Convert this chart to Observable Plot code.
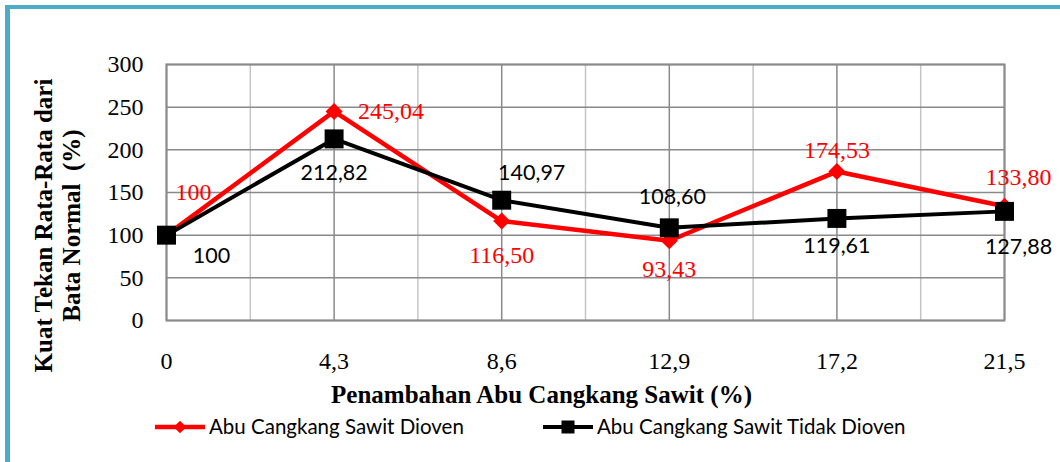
<!DOCTYPE html>
<html>
<head>
<meta charset="utf-8">
<script src="https://cdn.jsdelivr.net/npm/d3@7"></script>
<script src="https://cdn.jsdelivr.net/npm/@observablehq/plot@0.6"></script>
<style>
  html, body { margin: 0; padding: 0; background: #fff; }
  #wrap { position: relative; width: 1060px; height: 462px; overflow: hidden; background: #fff; }
  #border { position: absolute; left: 5px; top: 5px; width: 1200px; height: 600px;
            border-left: 5px solid #4bacc6; border-top: 4px solid #4bacc6; pointer-events: none; }
  #legend { position: absolute; left: 0; top: 410px; }
</style>
</head>
<body>
<div id="wrap">
  <div id="chart"></div>
  <svg id="legend" width="1060" height="36"></svg>
  <div id="border"></div>
</div>
<script>
// ---- data ----
const xValues = [0, 4.3, 8.6, 12.9, 17.2, 21.5];
const xTickLabels = ["0", "4,3", "8,6", "12,9", "17,2", "21,5"];
const yTicks = [0, 50, 100, 150, 200, 250, 300];
const seriesNames = ["Abu Cangkang Sawit Dioven", "Abu Cangkang Sawit Tidak Dioven"];
const dioven = [100, 245.04, 116.50, 93.43, 174.53, 133.80];
const dioventLabels = ["100", "245,04", "116,50", "93,43", "174,53", "133,80"];
const tidakDioven = [100, 212.82, 140.97, 108.60, 119.61, 127.88];
const tidakDiovenLabels = ["100", "212,82", "140,97", "108,60", "119,61", "127,88"];
const xTitle = "Penambahan Abu Cangkang Sawit (%)";
const yTitle = ["Kuat Tekan Rata-Rata dari", "Bata Normal  (%)"];

// ---- label placement (Excel-like nudges, layout only) ----
const redNudge = [[27, -43], [57, 0], [0, 34], [0, 29], [0, -21], [14, -29]];
const blackNudge = [[45, 21], [0, 34], [30, -27], [3, -31], [0, 28], [14, 36]];

const red = "#ff0000";
const black = "#000000";
const serif = "Liberation Serif, Times New Roman, serif";
const sans = "Lato, Open Sans, sans-serif";

const redData = xValues.map((x, i) => ({x, y: dioven[i], label: dioventLabels[i], i}));
const blackData = xValues.map((x, i) => ({x, y: tidakDioven[i], label: tidakDiovenLabels[i], i}));

const minorX = xValues.slice(1).map((v, i) => (v + xValues[i]) / 2);

const labelMarks = [];
redData.forEach((d, i) => {
  labelMarks.push(Plot.text([d], {
    x: "x", y: "y", text: "label", fill: red, fontSize: 24,
    fontFamily: serif, dx: redNudge[i][0], dy: redNudge[i][1]
  }));
});
blackData.forEach((d, i) => {
  labelMarks.push(Plot.text([d], {
    x: "x", y: "y", text: "label", fill: black, fontSize: 21.5,
    fontFamily: sans, dx: blackNudge[i][0], dy: blackNudge[i][1]
  }));
});

const chart = Plot.plot({
  width: 1060,
  height: 462,
  marginLeft: 166,
  marginRight: 56,
  marginTop: 64,
  marginBottom: 142,
  style: {fontFamily: serif, fontSize: "24px", color: "#000", background: "transparent"},
  x: {domain: [0, 21.5]},
  y: {domain: [0, 300]},
  marks: [
    Plot.gridX(minorX, {stroke: "#c4c4c4", strokeOpacity: 1, strokeWidth: 1.5}),
    Plot.gridX(xValues, {stroke: "#8a8a8a", strokeOpacity: 1, strokeWidth: 1.5}),
    Plot.gridY(yTicks, {stroke: "#8a8a8a", strokeOpacity: 1, strokeWidth: 1.5}),
    Plot.frame({stroke: "#8a8a8a", strokeWidth: 2}),
    Plot.axisX(xValues, {tickSize: 0, tickPadding: 31, label: null, fontSize: 24,
      tickFormat: (d) => xTickLabels[xValues.indexOf(d)]}),
    Plot.axisY(yTicks, {tickSize: 0, tickPadding: 23, label: null, fontSize: 24}),
    Plot.line(redData, {x: "x", y: "y", stroke: red, strokeWidth: 4.5}),
    Plot.dot(redData, {x: "x", y: "y", symbol: "square", r: 6.8, rotate: 45, fill: red, stroke: null}),
    Plot.line(blackData, {x: "x", y: "y", stroke: black, strokeWidth: 4}),
    Plot.dot(blackData, {x: "x", y: "y", symbol: "square", r: 10.7, fill: black, stroke: null}),
    ...labelMarks,
    Plot.text([xTitle], {frameAnchor: "bottom", textAnchor: "middle", lineAnchor: "middle",
      dx: -44, dy: 74, fontSize: 25, fontWeight: "bold", fontFamily: serif, fill: black}),
    Plot.text([yTitle[0]], {frameAnchor: "left", textAnchor: "middle", lineAnchor: "middle",
      dx: -123, dy: 33, rotate: -90, fontSize: 25, fontWeight: "bold", fontFamily: serif, fill: black}),
    Plot.text([yTitle[1]], {frameAnchor: "left", textAnchor: "middle", lineAnchor: "middle",
      dx: -95, dy: 33, rotate: -90, fontSize: 25, fontWeight: "bold", fontFamily: serif, fill: black})
  ]
});
document.getElementById("chart").appendChild(chart);

// make sure red value labels use the serif face (as in the source chart)
chart.querySelectorAll('g[aria-label="text"]').forEach((g) => {
  if ((g.getAttribute("fill") || "").toLowerCase() === red) g.style.fontFamily = serif;
});

// ---- legend ----
const leg = d3.select("#legend");
const legItems = [
  {name: seriesNames[0], color: red, x0: 155, symbol: "diamond"},
  {name: seriesNames[1], color: black, x0: 543, symbol: "square"}
];
const ly = 17;
legItems.forEach((it) => {
  const g = leg.append("g");
  g.append("line").attr("x1", it.x0).attr("x2", it.x0 + 50).attr("y1", ly).attr("y2", ly)
    .attr("stroke", it.color).attr("stroke-width", it.symbol === "diamond" ? 4.5 : 4);
  if (it.symbol === "diamond") {
    g.append("rect").attr("x", -4.5).attr("y", -4.5).attr("width", 9).attr("height", 9)
      .attr("fill", it.color).attr("transform", `translate(${it.x0 + 25},${ly}) rotate(45)`);
  } else {
    g.append("rect").attr("x", it.x0 + 25 - 6.5).attr("y", ly - 6.5).attr("width", 13).attr("height", 13)
      .attr("fill", it.color);
  }
  g.append("text").attr("x", it.x0 + 54).attr("y", ly).attr("dy", "0.35em")
    .attr("font-family", sans).attr("font-size", 20.5).attr("fill", "#000").text(it.name);
});
</script>
</body>
</html>
